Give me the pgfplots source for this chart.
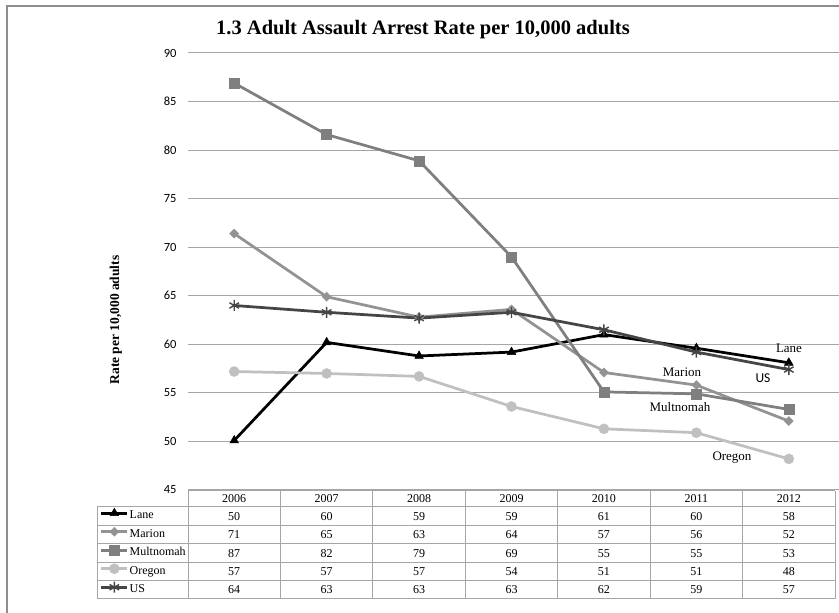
\documentclass[border=0pt]{standalone}
\usepackage{pgfplots}
\pgfplotsset{compat=1.18}
\usepackage{fontspec}
\setmainfont{Liberation Serif}
\newfontfamily\calibri{Carlito}
\definecolor{cLane}{HTML}{000000}
\definecolor{cMarion}{HTML}{939393}
\definecolor{cMult}{HTML}{7F7F7F}
\definecolor{cOre}{HTML}{C0C0C0}
\definecolor{cUS}{HTML}{454545}
\definecolor{gridc}{HTML}{A6A6A6}
\definecolor{framec}{HTML}{8E8E8E}
\begin{document}
\begin{tikzpicture}[x=1pt,y=1pt]
\path[use as bounding box] (0,0) rectangle (839,613);
\draw[framec, line width=1.5pt] (7,0) -- (7,607) -- (839,607);
\node[anchor=base, font=\bfseries\fontsize{20.5}{22}\selectfont] at (423,613-35) {1.3 Adult Assault Arrest Rate per 10,000 adults};
\node[rotate=90, font=\bfseries\fontsize{13.5}{14}\selectfont] at (116,613-320) {Rate per 10,000 adults};
\begin{axis}[
  at={(188pt,123pt)}, anchor=south west, scale only axis,
  width=651pt, height=437pt,
  xmin=0.5, xmax=7.543, ymin=45, ymax=90,
  ytick={45,50,...,90}, xtick=\empty,
  axis line style={draw=none},
  ymajorgrids, grid style={gridc, line width=1pt},
  major tick length=0pt,
  yticklabel style={font=\calibri\fontsize{12.5}{12.5}\selectfont, xshift=-8pt},
  /pgf/number format/assume math mode=true,
  clip=false,
  legend style={at={(-0.1352,-0.0389)}, anchor=north west, draw=none, fill=none,
    inner sep=0pt, outer sep=0pt, row sep=0pt,
    font=\fontsize{12}{12}\selectfont,
    nodes={inner xsep=1pt, inner ysep=0pt, text height=8pt, text depth=2.5pt, minimum height=18.5pt}},
  legend cell align=left,
  legend image code/.code={\draw[mark repeat=2, mark phase=2] plot coordinates {(0pt,3pt)(13pt,3pt)(26pt,3pt)};},
]
\addplot[cLane, line width=2.75pt, mark=triangle*, mark size=5pt, mark options={solid, line width=0.5pt}]
  coordinates {(1,50.1)(2,60.2)(3,58.8)(4,59.2)(5,61.0)(6,59.6)(7,58.1)};
\addlegendentry{Lane}
\addplot[cMarion, line width=2.75pt, mark=diamond*, mark size=4.5pt, mark options={solid, line width=0.5pt, xscale=1.33}]
  coordinates {(1,71.4)(2,64.9)(3,62.8)(4,63.6)(5,57.1)(6,55.8)(7,52.1)};
\addlegendentry{Marion}
\addplot[cMult, line width=2.75pt, mark=square*, mark size=5pt, mark options={solid, line width=0.5pt}]
  coordinates {(1,86.9)(2,81.6)(3,78.9)(4,69.0)(5,55.1)(6,54.9)(7,53.3)};
\addlegendentry{Multnomah}
\addplot[cOre, line width=2.75pt, mark=*, mark size=5pt, mark options={solid, line width=0.5pt}]
  coordinates {(1,57.2)(2,57.0)(3,56.7)(4,53.6)(5,51.3)(6,50.9)(7,48.2)};
\addlegendentry{Oregon}
\addplot[cUS, line width=2.75pt, mark=asterisk, mark size=5.5pt, mark options={solid, line width=1.4pt}]
  coordinates {(1,64.0)(2,63.3)(3,62.7)(4,63.3)(5,61.5)(6,59.2)(7,57.4)};
\addlegendentry{US}
\end{axis}
% annotations
\node[font=\fontsize{13}{13}\selectfont] at (789,613-348) {Lane};
\node[font=\calibri\fontsize{13.5}{13.5}\selectfont] at (763,613-378) {US};
\node[font=\fontsize{13}{13}\selectfont] at (682,613-372) {Marion};
\node[font=\fontsize{13}{13}\selectfont] at (680,613-407) {Multnomah};
\node[font=\fontsize{13}{13}\selectfont] at (732,613-458) {Oregon};
% data table
\begin{scope}[gridc, line width=1pt]
\draw (188,613-491) -- (835,613-491);
\foreach \yy in {507,526,544,563,581,599} \draw (97,613-\yy) -- (835,613-\yy);
\draw (97,613-507) -- (97,613-599);
\foreach \k in {0,...,7} \draw ({188+92.43*\k},613-491) -- ({188+92.43*\k},613-599);
\end{scope}
\begin{scope}[font=\fontsize{12}{12}\selectfont]
\foreach \t [count=\k] in {2006,2007,2008,2009,2010,2011,2012}
  \node at ({188+92.43*(\k-0.5)},613-499) {\t};
\foreach \row/\yy in {{50,60,59,59,61,60,58}/516.5,{71,65,63,64,57,56,52}/535,{87,82,79,69,55,55,53}/553.5,{57,57,57,54,51,51,48}/572,{64,63,63,63,62,59,57}/590}
  \foreach \v [count=\k] in \row
    \node at ({188+92.43*(\k-0.5)},613-\yy) {\v};
\end{scope}
\end{tikzpicture}
\end{document}
